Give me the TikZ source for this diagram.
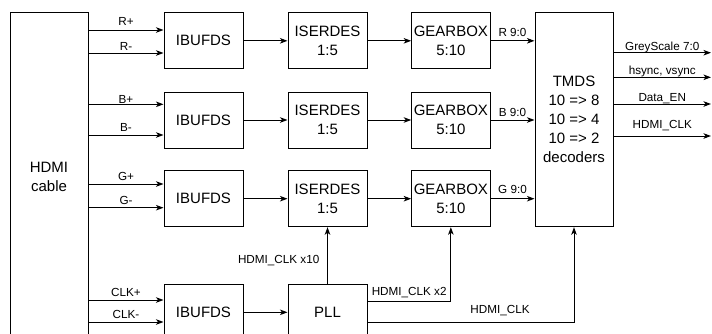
\documentclass[tikz,border=0pt]{standalone}
\usepackage{fontspec}
\setmainfont{Liberation Sans}
\usetikzlibrary{arrows.meta}
\begin{document}
\begin{tikzpicture}[x=1pt,y=-1pt,
  box/.style={draw=black, line width=1pt, minimum width=79pt, minimum height=56pt, inner sep=0pt, align=center, font=\fontsize{15}{19}\selectfont},
  arr/.style={draw=black, line width=1pt, -{Stealth[length=7.5pt,width=5.5pt,inset=2pt]}},
  lbl/.style={font=\fontsize{11.7}{14}\selectfont, inner sep=0pt, anchor=base},
]
\useasboundingbox (0,0) rectangle (712,333);
\clip (0,0) rectangle (712,333);

% boxes
\node[box, minimum width=78pt, minimum height=327.6pt] (hdmi) at (49,176.5) {HDMI\\cable};
\node[box] (ib1) at (203.5,40.8) {IBUFDS};
\node[box] (ib2) at (203.5,120) {IBUFDS};
\node[box] (ib3) at (203.5,198.7) {IBUFDS};
\node[box] (ib4) at (203.5,312.3) {IBUFDS};
\node[box] (is1) at (327.5,40.8) {ISERDES\\1:5};
\node[box] (is2) at (327.5,120) {ISERDES\\1:5};
\node[box] (is3) at (327.5,198.7) {ISERDES\\1:5};
\node[box] (pll) at (327.5,312.3) {PLL};
\node[box, minimum width=78.3pt] (gb1) at (450.85,40.8) {GEARBOX\\5:10};
\node[box, minimum width=78.3pt] (gb2) at (450.85,120) {GEARBOX\\5:10};
\node[box, minimum width=78.3pt] (gb3) at (450.85,198.7) {GEARBOX\\5:10};
\node[box, minimum width=78pt, minimum height=214pt] (tmds) at (574,119.7) {TMDS\\10 => 8\\10 => 4\\10 => 2\\decoders};

% HDMI cable -> IBUFDS
\draw[arr] (hdmi.east |- 0,30) -- node[lbl, yshift=5pt] (lrp) {R+} (ib1.west |- 0,30);
\draw[arr] (hdmi.east |- 0,53) -- node[lbl, yshift=3pt] (lrm) {R-} (ib1.west |- 0,53);
\draw[arr] (hdmi.east |- 0,104.3) -- node[lbl, yshift=1.2pt] (lbp) {B+} (ib2.west |- 0,104.3);
\draw[arr] (hdmi.east |- 0,135) -- node[lbl, yshift=3.3pt] (lbm) {B-} (ib2.west |- 0,135);
\draw[arr] (hdmi.east |- 0,184) -- node[lbl, yshift=3.3pt] (lgp) {G+} (ib3.west |- 0,184);
\draw[arr] (hdmi.east |- 0,207.7) -- node[lbl, yshift=3.4pt] (lgm) {G-} (ib3.west |- 0,207.7);
\draw[arr] (hdmi.east |- 0,300) -- node[lbl, yshift=3.3pt] (lcp) {CLK+} (ib4.west |- 0,300);
\draw[arr] (hdmi.east |- 0,322) -- node[lbl, yshift=3.7pt] (lcm) {CLK-} (ib4.west |- 0,322);

% chains
\draw[arr] (ib1) -- (is1);
\draw[arr] (ib2) -- (is2);
\draw[arr] (ib3) -- (is3);
\draw[arr] (ib4) -- (pll);
\draw[arr] (is1) -- (gb1);
\draw[arr] (is2) -- (gb2);
\draw[arr] (is3) -- (gb3);

% gearbox -> TMDS
\draw[arr] (gb1) -- node[lbl, yshift=4pt] (lr90) {R 9:0} (gb1 -| tmds.west);
\draw[arr] (gb2) -- node[lbl, yshift=4pt] (lb90) {B 9:0} (gb2 -| tmds.west);
\draw[arr] (gb3) -- node[lbl, yshift=5pt] (lg90) {G 9:0} (gb3 -| tmds.west);

% outputs
\coordinate (o1) at (711,52.7);
\coordinate (o2) at (711,77.3);
\coordinate (o3) at (711,104);
\coordinate (o4) at (711,136);
\draw[arr] (tmds.east |- o1) -- node[lbl, yshift=2pt] (lgs) {GreyScale 7:0} (o1);
\draw[arr] (tmds.east |- o2) -- node[lbl, yshift=3pt] (lhv) {hsync, vsync} (o2);
\draw[arr] (tmds.east |- o3) -- node[lbl, yshift=3pt] (lde) {Data\_EN} (o3);
\draw[arr] (tmds.east |- o4) -- node[lbl, yshift=7.7pt] (lhc) {HDMI\_CLK} (o4);

% PLL clocks
\draw[arr] (pll) -- (is3);
\node[lbl, anchor=base east] (lx10) at (319.5,263.3) {HDMI\_CLK x10};
\draw[arr] (pll.east |- 0,301) -| node[lbl, pos=0.25, yshift=6pt] (lx2) {HDMI\_CLK x2} (gb3.south);
\draw[arr] (pll.east |- 0,322.3) -| (tmds.south);
\node[lbl] (lclk) at (500,313.3) {HDMI\_CLK};
\end{tikzpicture}
\end{document}
